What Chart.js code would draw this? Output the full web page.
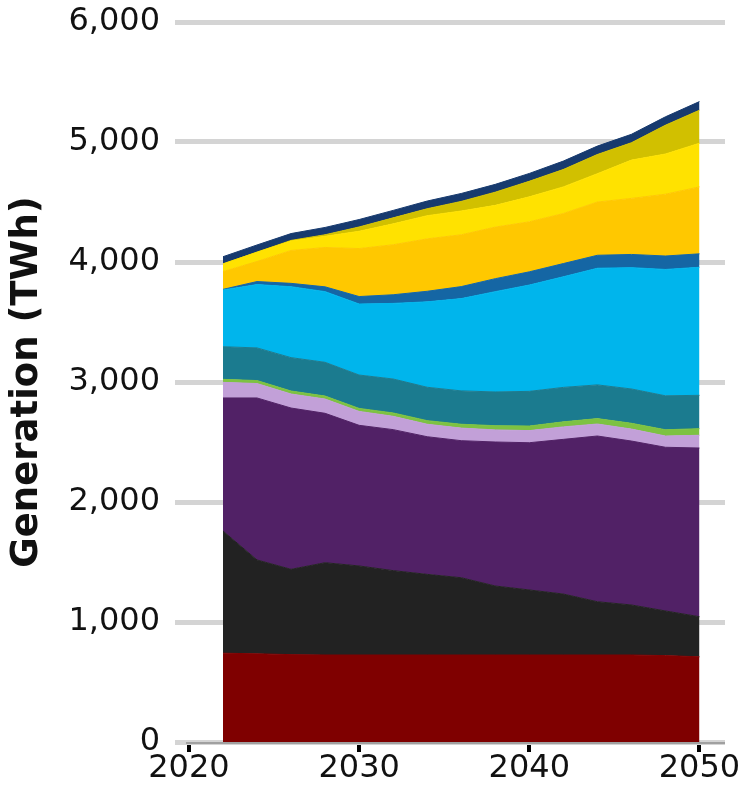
<!DOCTYPE html>
<html>
<head>
<meta charset="utf-8">
<script src="https://cdn.jsdelivr.net/npm/chart.js@4.4.1/dist/chart.umd.min.js"></script>
<style>
  html, body { margin: 0; padding: 0; background: #fff; }
</style>
</head>
<body>
<canvas id="chart" width="751" height="800"></canvas>
<script>
// years on the x axis (every 2 years)
const years = [2022, 2024, 2026, 2028, 2030, 2032, 2034, 2036, 2038, 2040, 2042, 2044, 2046, 2048, 2050];
const xTickValues = [2020, 2030, 2040, 2050];

// generation by source, TWh (stacked bottom to top)
const nuclear      = [740, 735, 728, 725, 725, 725, 725, 725, 725, 725, 725, 725, 725, 720, 710];
const coal         = [1018, 782, 711, 769, 742, 703, 672, 644, 575, 542, 508, 444, 417, 372, 334];
const naturalGas   = [1109, 1350, 1344, 1245, 1172, 1175, 1147, 1142, 1200, 1227, 1289, 1381, 1366, 1364, 1406];
const otherGas     = [130, 120, 117, 119, 116, 111, 104, 105, 101, 101, 104, 100, 100, 94, 106];
const biomass      = [25, 25, 25, 25, 25, 28, 30, 32, 35, 38, 42, 45, 48, 52, 55];
const hydro        = [272, 272, 278, 281, 278, 283, 278, 278, 281, 289, 287, 281, 286, 283, 278];
const onshoreWind  = [473, 528, 591, 589, 592, 630, 712, 769, 836, 886, 922, 972, 1011, 1053, 1067];
const offshoreWind = [5, 25, 28, 40, 62, 72, 88, 100, 108, 110, 110, 108, 110, 112, 112];
const utilitySolar = [148, 167, 274, 328, 400, 417, 437, 432, 430, 417, 417, 444, 467, 515, 558];
const rooftopSolar = [64, 78, 79, 93, 144, 174, 193, 198, 181, 208, 222, 236, 319, 335, 364];
const otherSolar   = [0, 0, 5, 13, 36, 50, 58, 80, 110, 130, 145, 160, 145, 240, 275];
const storage      = [60, 60, 57, 61, 62, 62, 64, 66, 65, 65, 70, 70, 70, 70, 72];

const series = [
  { label: 'Nuclear', values: nuclear, color: '#7f0000' },
  { label: 'Coal', values: coal, color: '#222222' },
  { label: 'Natural Gas', values: naturalGas, color: '#512166' },
  { label: 'Other Gas', values: otherGas, color: '#c2a0d8' },
  { label: 'Biomass', values: biomass, color: '#7dc242' },
  { label: 'Hydro', values: hydro, color: '#1b7b8f' },
  { label: 'Onshore Wind', values: onshoreWind, color: '#00b5ec' },
  { label: 'Offshore Wind', values: offshoreWind, color: '#1566a4' },
  { label: 'Utility Solar', values: utilitySolar, color: '#ffc800' },
  { label: 'Rooftop Solar', values: rooftopSolar, color: '#ffe200' },
  { label: 'Other Solar', values: otherSolar, color: '#d1c000' },
  { label: 'Storage', values: storage, color: '#173a6e' },
];

const FONT = "'DejaVu Sans', sans-serif";

// gray x axis line starting at the 2020 tick
const axisLine = {
  id: 'axisLine',
  afterDraw(chart) {
    const { ctx, scales: { x, y } } = chart;
    ctx.save();
    ctx.strokeStyle = '#a0a0a0';
    ctx.lineWidth = 2;
    ctx.beginPath();
    ctx.moveTo(x.getPixelForValue(2020) - 3, y.getPixelForValue(0) + 1);
    ctx.lineTo(x.right, y.getPixelForValue(0) + 1);
    ctx.stroke();
    ctx.restore();
  }
};

new Chart(document.getElementById('chart'), {
  type: 'line',
  data: {
    datasets: series.map((s, i) => ({
      label: s.label,
      data: years.map((yr, j) => ({ x: yr, y: s.values[j] })),
      backgroundColor: s.color,
      borderColor: s.color,
      borderWidth: 1,
      pointRadius: 0,
      fill: i === 0 ? 'origin' : '-1',
      tension: 0,
    })),
  },
  options: {
    responsive: false,
    animation: false,
    layout: { padding: { top: 22, right: 26, left: 0, bottom: 0 } },
    plugins: {
      legend: { display: false },
      tooltip: { enabled: false },
    },
    scales: {
      x: {
        type: 'linear',
        min: 2019.18,
        max: 2051.5,
        afterBuildTicks: s => { s.ticks = xTickValues.map(v => ({ value: v })); },
        afterFit: s => { s.height = 58; s.paddingLeft = 0; s.paddingRight = 0; },
        grid: { drawOnChartArea: false, drawTicks: true, tickLength: 10, color: '#000', lineWidth: 4 },
        border: { display: false },
        ticks: {
          font: { family: FONT, size: 32 },
          color: '#111',
          padding: -3,
          maxRotation: 0,
          callback: v => String(v),
        },
      },
      y: {
        stacked: true,
        min: 0,
        max: 6000,
        afterFit: s => { s.width = 175; s.paddingTop = 0; s.paddingBottom = 0; },
        grid: { color: '#d4d4d4', lineWidth: 5, drawTicks: false },
        border: { display: false },
        ticks: {
          stepSize: 1000,
          font: { family: FONT, size: 32 },
          color: '#111',
          padding: 15,
        },
        title: {
          display: true,
          text: 'Generation (TWh)',
          font: { family: FONT, size: 37, weight: 'bold' },
          color: '#111',
          padding: { top: 5, bottom: 0 },
        },
      },
    },
  },
  plugins: [axisLine],
});
</script>
</body>
</html>
